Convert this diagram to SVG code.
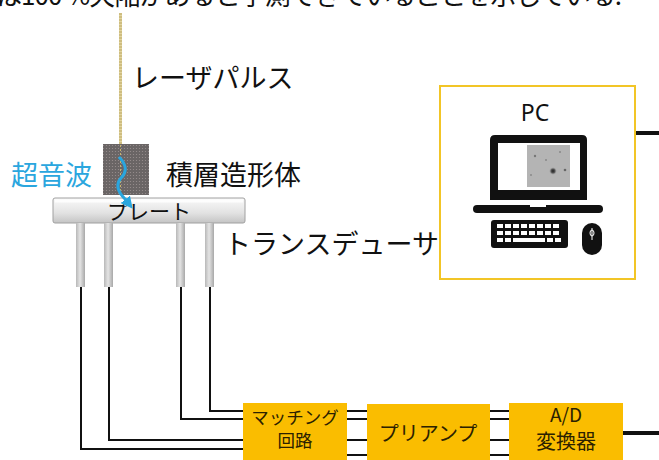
<svg xmlns="http://www.w3.org/2000/svg" width="659" height="460" viewBox="0 0 659 460">
  <defs>
    <style>
      .jp { font-family: "Noto Sans CJK JP", "Noto Sans", sans-serif; fill: #111; }
      .lbl { font-size: 27px; }
      .box { fill: #fabd00; }
      .boxtxt { font-family: "Noto Sans CJK JP", "Noto Sans", sans-serif; fill: #2b2100; text-anchor: middle; }
      .wire { fill: none; stroke: #111; stroke-width: 2; }
      .bar { fill: url(#barGrad); }
    </style>
    <linearGradient id="barGrad" x1="0" y1="0" x2="1" y2="0">
      <stop offset="0" stop-color="#b8b8b8"/>
      <stop offset="0.45" stop-color="#e4e4e4"/>
      <stop offset="1" stop-color="#a8a8a8"/>
    </linearGradient>
    <linearGradient id="plateGrad" x1="0" y1="0" x2="0" y2="1">
      <stop offset="0" stop-color="#fafafa"/>
      <stop offset="0.6" stop-color="#e2e2e2"/>
      <stop offset="1" stop-color="#c4c4c4"/>
    </linearGradient>
    <pattern id="dots" width="3" height="3" patternUnits="userSpaceOnUse">
      <rect width="3" height="3" fill="#6a6565"/>
      <circle cx="1.5" cy="1.5" r="0.6" fill="#9a9090"/>
    </pattern>
    <pattern id="laser" width="3" height="3" patternUnits="userSpaceOnUse">
      <rect width="3" height="3" fill="#e2d49e"/>
      <rect y="1.5" width="3" height="1" fill="#bba662"/>
    </pattern>
    <radialGradient id="spot" cx="0.5" cy="0.5" r="0.5">
      <stop offset="0" stop-color="#222"/>
      <stop offset="0.5" stop-color="#555"/>
      <stop offset="1" stop-color="#aaa" stop-opacity="0"/>
    </radialGradient>
    <marker id="waveHead" markerWidth="4" markerHeight="4" refX="2" refY="2" orient="auto" markerUnits="strokeWidth">
      <path d="M0,0 L4,2 L0,4 z" fill="#2aa6de"/>
    </marker>
  </defs>

  <!-- running text line at the top edge -->
  <text class="jp" x="-4" y="5" font-size="26" textLength="626" lengthAdjust="spacing">は100 %欠陥があると予測できていることを示している.</text>

  <!-- laser pulse beam -->
  <g id="laser-pulse">
    <rect x="119" y="13" width="3" height="132" fill="url(#laser)"/>
    <text class="jp lbl" x="132" y="88">レーザパルス</text>
  </g>

  <!-- additively manufactured specimen -->
  <g id="specimen">
    <rect x="103" y="144" width="46" height="51" fill="url(#dots)"/>
    <line x1="120.5" y1="145" x2="120.5" y2="195" stroke="#c9b46a" stroke-width="1" stroke-dasharray="2 2"/>
    <text class="jp lbl" x="166" y="185">積層造形体</text>
  </g>

  <!-- plate -->
  <g id="plate">
    <rect x="53" y="198" width="192" height="25" rx="2" fill="url(#plateGrad)" stroke="#a0a0a0" stroke-width="1"/>
    <rect x="55" y="199.5" width="188" height="3" fill="#ffffff" opacity="0.8"/>
    <text class="jp" x="149" y="219" font-size="21" text-anchor="middle">プレート</text>
  </g>

  <!-- ultrasonic wave -->
  <g id="ultrasound">
    <path d="M119,157 C127,165 127,172 121,178 C115,185 119,193 125,199 L129,204" fill="none" stroke="#2aa6de" stroke-width="3" marker-end="url(#waveHead)"/>
    <text class="jp lbl" x="11" y="185" style="fill:#2aa6de">超音波</text>
  </g>

  <!-- transducers -->
  <g id="transducers">
    <rect class="bar" x="76" y="223" width="9" height="64"/>
    <rect class="bar" x="104" y="223" width="9" height="64"/>
    <rect class="bar" x="176" y="223" width="9" height="64"/>
    <rect class="bar" x="205" y="223" width="9" height="64"/>
    <text class="jp lbl" x="224" y="254">トランスデューサ</text>
  </g>

  <!-- connectors -->
  <g id="connectors">
    <path class="wire" d="M81,287 V449 H243"/>
    <path class="wire" d="M109,287 V440 H243"/>
    <path class="wire" d="M181,287 V419 H243"/>
    <path class="wire" d="M210,287 V411 H243"/>
    <path class="wire" d="M347,411 H367 M347,419 H367 M347,440 H367 M347,455 H367"/>
    <path class="wire" d="M490,411 H509 M490,419 H509 M490,440 H509 M490,455 H509"/>
    <line x1="623" y1="433" x2="659" y2="433" stroke="#111" stroke-width="4"/>
    <line x1="636" y1="133" x2="659" y2="133" stroke="#111" stroke-width="4"/>
  </g>

  <!-- matching circuit -->
  <g id="matching">
    <rect class="box" x="243" y="403" width="104" height="60"/>
    <text class="boxtxt" x="295" y="424" font-size="17.5">マッチング</text>
    <text class="boxtxt" x="295" y="447" font-size="17.5">回路</text>
  </g>

  <!-- preamplifier -->
  <g id="preamp">
    <rect class="box" x="367" y="404" width="123" height="60"/>
    <text class="boxtxt" x="428" y="441" font-size="20">プリアンプ</text>
  </g>

  <!-- A/D converter -->
  <g id="adc">
    <rect class="box" x="509" y="403" width="114" height="60"/>
    <text class="boxtxt" x="566" y="422" font-size="19">A/D</text>
    <text class="boxtxt" x="566" y="449" font-size="20">変換器</text>
  </g>

  <!-- PC -->
  <g id="pc">
    <rect x="440" y="86" width="195" height="193" fill="#fff" stroke="#f2c526" stroke-width="2"/>
    <text x="535" y="121" font-family="Noto Sans, sans-serif" font-size="23" text-anchor="middle" fill="#111">PC</text>
    <!-- laptop screen -->
    <path d="M495,135 H582 Q587,135 587,140 V200 H490 V140 Q490,135 495,135 Z" fill="#111"/>
    <rect x="498" y="143" width="82" height="47" fill="#fff"/>
    <rect x="527" y="145" width="43" height="42" fill="#b4b4b4"/>
    <circle cx="535" cy="156" r="1.2" fill="#777"/>
    <circle cx="546" cy="160" r="1" fill="#888"/>
    <circle cx="560" cy="152" r="1" fill="#888"/>
    <circle cx="531" cy="175" r="1" fill="#8a8a8a"/>
    <circle cx="565" cy="170" r="1.3" fill="#666"/>
    <circle cx="553" cy="171" r="4" fill="url(#spot)"/>
    <!-- laptop base -->
    <rect x="473" y="205" width="130" height="8" rx="4" fill="#111"/>
    <rect x="530" y="205" width="16" height="2" fill="#fff"/>
    <!-- keyboard -->
    <rect x="491" y="220" width="77" height="28" rx="3" fill="#111"/>
    <g fill="#fff">
      <rect x="497" y="224" width="6" height="4"/><rect x="505" y="224" width="6" height="4"/><rect x="513" y="224" width="6" height="4"/><rect x="521" y="224" width="6" height="4"/><rect x="529" y="224" width="6" height="4"/><rect x="537" y="224" width="6" height="4"/><rect x="545" y="224" width="6" height="4"/><rect x="553" y="224" width="6" height="4"/>
      <rect x="497" y="231" width="6" height="4"/><rect x="505" y="231" width="6" height="4"/><rect x="513" y="231" width="6" height="4"/><rect x="521" y="231" width="6" height="4"/><rect x="529" y="231" width="6" height="4"/><rect x="537" y="231" width="6" height="4"/><rect x="545" y="231" width="6" height="4"/><rect x="553" y="231" width="6" height="4"/>
      <rect x="497" y="238" width="6" height="4"/><rect x="505" y="238" width="6" height="4"/><rect x="513" y="238" width="32" height="4"/><rect x="547" y="238" width="6" height="4"/><rect x="555" y="238" width="6" height="4"/>
    </g>
    <!-- mouse -->
    <rect x="582" y="223" width="20" height="32" rx="10" fill="#111"/>
    <line x1="592" y1="228" x2="592" y2="240" stroke="#fff" stroke-width="1"/>
    <ellipse cx="592" cy="233" rx="2" ry="3" fill="none" stroke="#fff" stroke-width="1"/>
  </g>
</svg>
